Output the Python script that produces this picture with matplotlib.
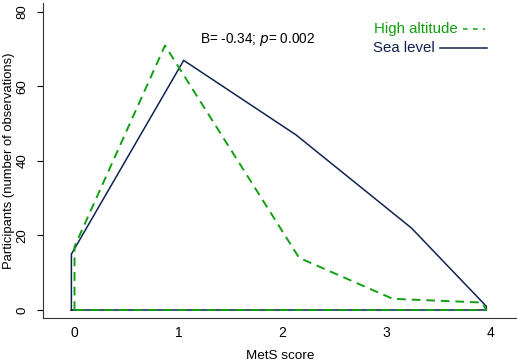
import matplotlib
matplotlib.use("Agg")
import matplotlib.pyplot as plt

plt.rcParams['font.family'] = ['Liberation Sans', 'DejaVu Sans']

# frequency polygons (closed along the zero line)
sea_x = [-0.03, -0.03, 1.05, 2.13, 3.24, 3.96, 3.96, -0.03]
sea_y = [0, 15, 67, 47, 22, 1, 0, 0]
high_x = [0.0, 0.0, 0.87, 2.16, 3.06, 3.92, 3.96, 0.0]
high_y = [0, 17, 71, 14, 3, 2, 0, 0]

xticks = [0, 1, 2, 3, 4]
yticks = [0, 20, 40, 60, 80]

navy = '#0f2350'
green = '#12a012'

fig = plt.figure(figsize=(5.17, 3.63), dpi=100)
ax = fig.add_axes([43 / 517, 45 / 363, 474 / 517, 315 / 363])

ax.plot(sea_x, sea_y, color=navy, lw=1.1, solid_joinstyle='miter')
ax.plot(high_x, high_y, color=green, lw=1.4, dashes=(4.5, 3))

ax.set_xlim(-0.303, 4.255)
ax.set_ylim(-2.15, 82.4)
ax.set_xticks(xticks)
ax.set_yticks(yticks)
ax.tick_params(axis='x', length=0, pad=6, labelsize=10)
ax.tick_params(axis='y', length=4, width=0.8, pad=6.5, labelsize=9.5, labelrotation=90)
for lab in ax.get_yticklabels():
    lab.set_va('center')

for s in ['top', 'right']:
    ax.spines[s].set_visible(False)
for s in ['left', 'bottom']:
    ax.spines[s].set_linewidth(0.8)
    ax.spines[s].set_color('#333333')

ax.set_xlabel('MetS score', fontsize=9.7, labelpad=7)
ax.set_ylabel('Participants (number of observations)', fontsize=9.4)
ax.yaxis.set_label_coords(-0.059, 0.5)

ax.text(0.331, 0.883, 'B= -0.34; $\\it{p}$= 0.002', transform=ax.transAxes,
        fontsize=9.8, va='center', ha='left')

# legend drawn by hand (Stata style: label then key)
ax.text(0.8755, 0.917, 'High altitude', transform=ax.transAxes, color=green,
        fontsize=10.8, ha='right', va='center')
ax.plot([0.886, 0.9325], [0.917, 0.917], transform=ax.transAxes, color=green,
        lw=1.1, dashes=(3, 3.5))
ax.text(0.827, 0.857, 'Sea level', transform=ax.transAxes, color=navy,
        fontsize=10.8, ha='right', va='center')
ax.plot([0.8376, 0.9367], [0.857, 0.857], transform=ax.transAxes, color=navy,
        lw=1.1)

fig.savefig('out.png', dpi=100)
